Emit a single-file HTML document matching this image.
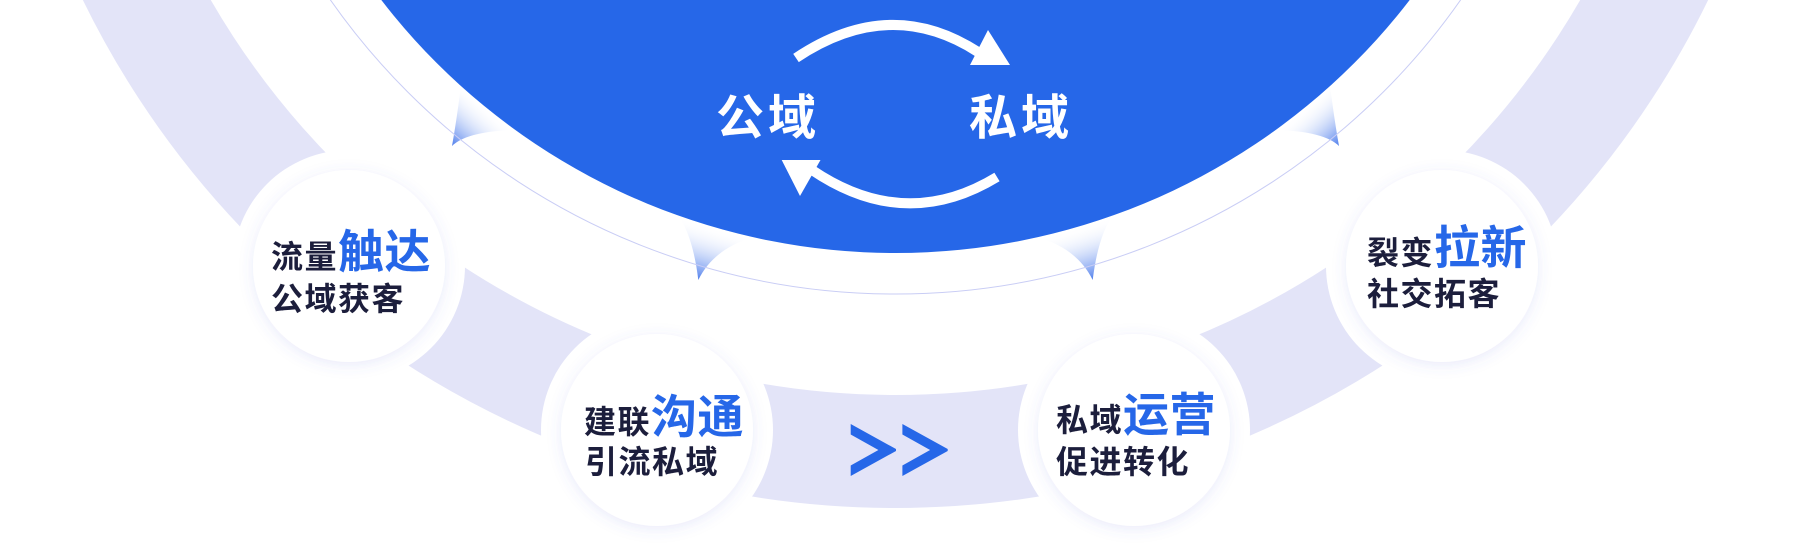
<!DOCTYPE html>
<html>
<head>
<meta charset="utf-8">
<style>
  html,body{margin:0;padding:0;background:#fff;}
  body{width:1798px;height:546px;overflow:hidden;}
  svg{display:block;}
  text{font-family:"Liberation Sans","Noto Sans CJK SC","WenQuanYi Zen Hei",sans-serif;font-weight:700;}
</style>
</head>
<body>
<svg width="1798" height="546" viewBox="0 0 1798 546" xmlns="http://www.w3.org/2000/svg">
  <defs>
    <linearGradient id="g1" gradientUnits="userSpaceOnUse" x1="487" y1="107" x2="452" y2="146">
      <stop offset="0" stop-color="#ffffff" stop-opacity="0"/>
      <stop offset="1" stop-color="#3a6fea" stop-opacity="0.9"/>
    </linearGradient>
    <linearGradient id="g2" gradientUnits="userSpaceOnUse" x1="714" y1="227" x2="698" y2="280">
      <stop offset="0" stop-color="#ffffff" stop-opacity="0"/>
      <stop offset="1" stop-color="#3a6fea" stop-opacity="0.9"/>
    </linearGradient>
    <linearGradient id="g3" gradientUnits="userSpaceOnUse" x1="1077" y1="227" x2="1093" y2="280">
      <stop offset="0" stop-color="#ffffff" stop-opacity="0"/>
      <stop offset="1" stop-color="#3a6fea" stop-opacity="0.9"/>
    </linearGradient>
    <linearGradient id="g4" gradientUnits="userSpaceOnUse" x1="1304" y1="107" x2="1339" y2="146">
      <stop offset="0" stop-color="#ffffff" stop-opacity="0"/>
      <stop offset="1" stop-color="#3a6fea" stop-opacity="0.9"/>
    </linearGradient>
    <filter id="sh" x="-30%" y="-30%" width="160%" height="160%">
      <feDropShadow dx="0" dy="3" stdDeviation="7" flood-color="#5a66d8" flood-opacity="0.13"/>
    </filter>
  </defs>

  <rect x="0" y="0" width="1798" height="546" fill="#ffffff"/>

  <!-- outer lavender ring -->
  <circle cx="895.5" cy="-396" r="847.5" fill="none" stroke="#E3E4F8" stroke-width="113"/>

  <!-- white masks around nodes -->
  <circle cx="349" cy="266" r="116" fill="#ffffff"/>
  <circle cx="657" cy="430" r="116" fill="#ffffff"/>
  <circle cx="1134" cy="430" r="116" fill="#ffffff"/>
  <circle cx="1442" cy="266" r="116" fill="#ffffff"/>

  <!-- gradient pointers -->
  <path d="M461,85 L513,130 Q466.7,131.7 452,146 Q457,118 461,85 Z" fill="url(#g1)"/>
  <path d="M679,216.7 L750,238.3 Q713,250 698.3,280 Q693,237 679,216.7 Z" fill="url(#g2)"/>
  <path d="M1112,216.7 L1041,238.3 Q1078,250 1092.7,280 Q1098,237 1112,216.7 Z" fill="url(#g3)"/>
  <path d="M1330,85 L1278,130 Q1324.3,131.7 1339,146 Q1334,118 1330,85 Z" fill="url(#g4)"/>

  <!-- thin line circle -->
  <circle cx="895.5" cy="-396" r="690" fill="none" stroke="#C9CDF5" stroke-width="1"/>

  <!-- main blue circle -->
  <circle cx="895.5" cy="-396" r="649" fill="#2667E8"/>

  <!-- cycle arrows -->
  <path d="M796,58 Q890,-5 978,52" fill="none" stroke="#ffffff" stroke-width="10"/>
  <polygon points="988,30 1010,65 970,65" fill="#ffffff"/>
  <path d="M997,177 Q905,233 812,170" fill="none" stroke="#ffffff" stroke-width="10"/>
  <polygon points="781.7,160 820.5,160 800,196" fill="#ffffff"/>

  <text x="716" y="134" font-size="48" letter-spacing="4" fill="#ffffff">公域</text>
  <text x="969" y="134" font-size="48" letter-spacing="4" fill="#ffffff">私域</text>

  <!-- nodes -->
  <circle cx="349" cy="266" r="96" fill="#ffffff" filter="url(#sh)"/>
  <circle cx="657" cy="430" r="96" fill="#ffffff" filter="url(#sh)"/>
  <circle cx="1134" cy="430" r="96" fill="#ffffff" filter="url(#sh)"/>
  <circle cx="1442" cy="266" r="96" fill="#ffffff" filter="url(#sh)"/>

  <!-- node 1 -->
  <text x="271" y="268" fill="#1c1e3c"><tspan font-size="32" letter-spacing="1.5">流量</tspan><tspan font-size="46" letter-spacing="0.5" fill="#2667E8">触达</tspan></text>
  <text x="271" y="310" font-size="32" letter-spacing="1.5" fill="#1c1e3c">公域获客</text>

  <!-- node 2 -->
  <text x="584" y="433" fill="#1c1e3c"><tspan font-size="32" letter-spacing="1.5">建联</tspan><tspan font-size="46" letter-spacing="0.5" fill="#2667E8">沟通</tspan></text>
  <text x="585" y="473" font-size="32" letter-spacing="1.5" fill="#1c1e3c">引流私域</text>

  <!-- node 3 -->
  <text x="1056" y="431" fill="#1c1e3c"><tspan font-size="32" letter-spacing="1.5">私域</tspan><tspan font-size="46" letter-spacing="0.5" fill="#2667E8">运营</tspan></text>
  <text x="1056" y="473" font-size="32" letter-spacing="1.5" fill="#1c1e3c">促进转化</text>

  <!-- node 4 -->
  <text x="1367" y="264" fill="#1c1e3c"><tspan font-size="32" letter-spacing="1.5">裂变</tspan><tspan font-size="46" letter-spacing="0.5" fill="#2667E8">拉新</tspan></text>
  <text x="1367" y="305" font-size="32" letter-spacing="1.5" fill="#1c1e3c">社交拓客</text>

  <!-- chevrons >> -->
  <polygon points="850.7,424 896,449 896,451 850.7,476 850.7,465.5 878.4,450 850.7,434.5" fill="#2667E8"/>
  <polygon points="902.4,424 947.7,449 947.7,451 902.4,476 902.4,465.5 930.1,450 902.4,434.5" fill="#2667E8"/>
</svg>
</body>
</html>
